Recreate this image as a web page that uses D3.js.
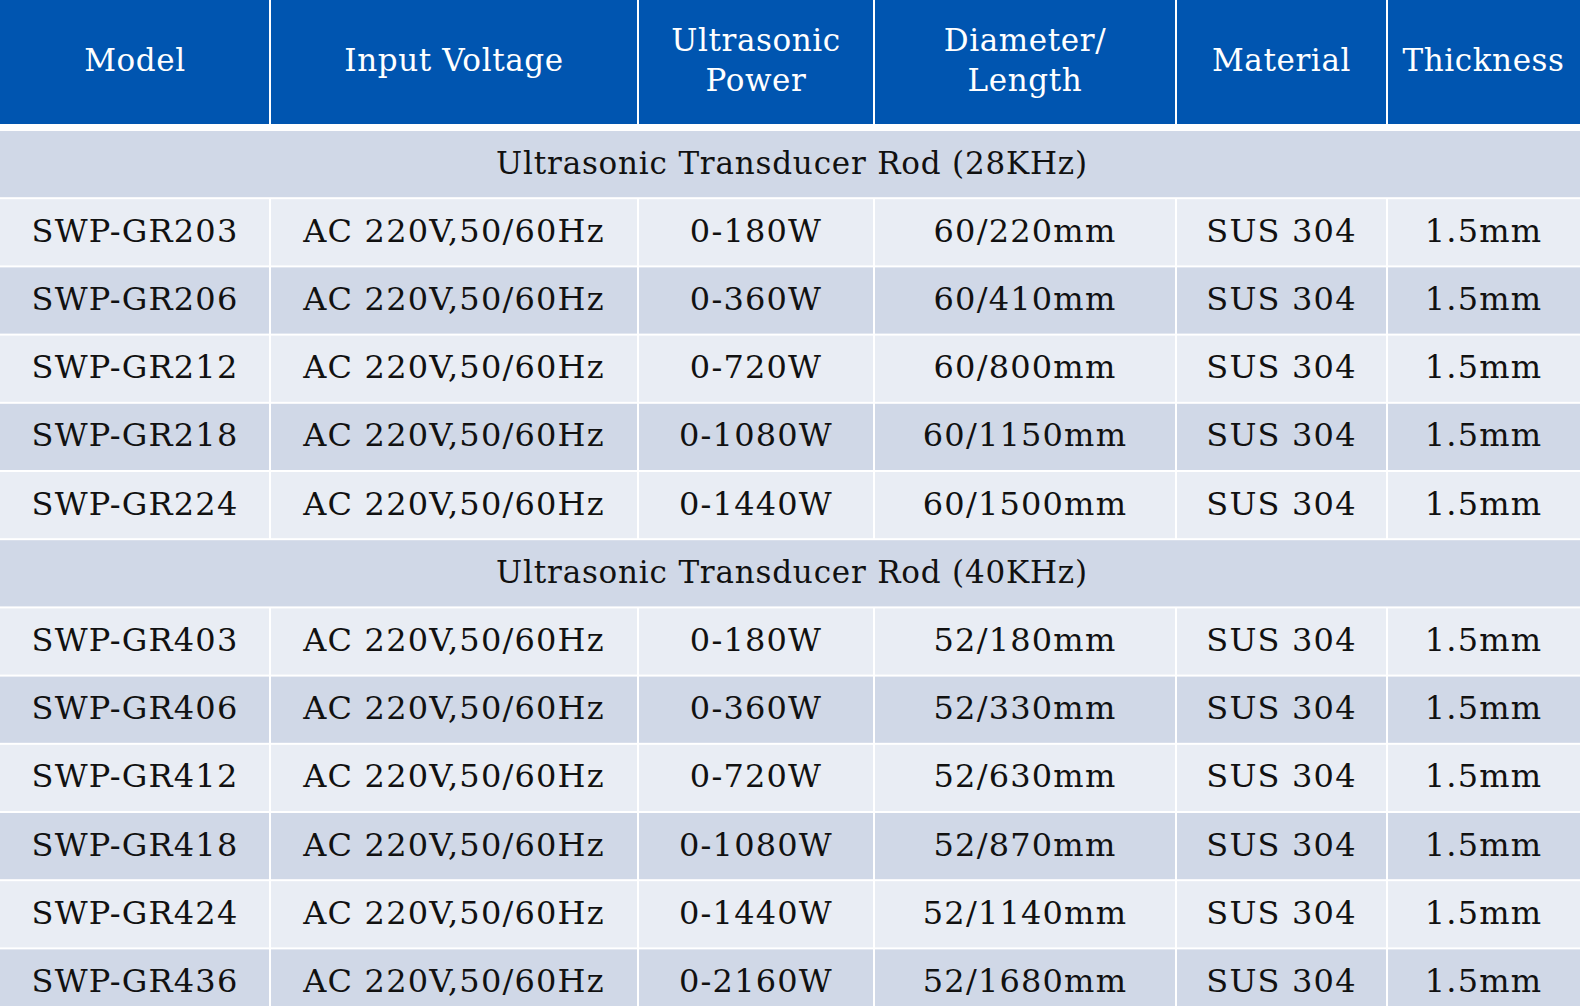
<!DOCTYPE html><html><head><meta charset="utf-8"><script src="https://cdn.jsdelivr.net/npm/d3@7"></script>
<style>body{margin:0;background:#fff}svg{display:block}</style></head><body><svg id="c" width="1580" height="1006"></svg><script>
const headers=[["Model"],["Input Voltage"],["Ultrasonic","Power"],["Diameter/","Length"],["Material"],["Thickness"]];
const colEdges=[0,270,638,874,1176,1387,1580];
const sections=["Ultrasonic Transducer Rod (28KHz)","Ultrasonic Transducer Rod (40KHz)"];
const models28=["SWP-GR203","SWP-GR206","SWP-GR212","SWP-GR218","SWP-GR224"];
const power28=["0-180W","0-360W","0-720W","0-1080W","0-1440W"];
const size28=["60/220mm","60/410mm","60/800mm","60/1150mm","60/1500mm"];
const models40=["SWP-GR403","SWP-GR406","SWP-GR412","SWP-GR418","SWP-GR424","SWP-GR436"];
const power40=["0-180W","0-360W","0-720W","0-1080W","0-1440W","0-2160W"];
const size40=["52/180mm","52/330mm","52/630mm","52/870mm","52/1140mm","52/1680mm"];
const voltage="AC 220V,50/60Hz", material="SUS 304", thickness="1.5mm";

const svg=d3.select("#c");
const font="'DejaVu Serif', serif";
const headH=125, gap=6, rowH=68.2;
for(let i=0;i<6;i++){
  const x0=colEdges[i],x1=colEdges[i+1];
  svg.append("rect").attr("x",x0+(i?1:0)).attr("y",0).attr("width",x1-x0-(i?1:0)-(i<5?1:0)).attr("height",headH-1).attr("fill","#0055b0");
  const lines=headers[i], cx=(x0+x1)/2;
  lines.forEach((l,j)=>{
    const y=lines.length==1?62:42+j*40;
    svg.append("text").attr("x",cx).attr("y",y).attr("text-anchor","middle").attr("dominant-baseline","middle")
      .attr("fill","#fff").attr("font-family",font).attr("font-size",31).attr("letter-spacing",0.6).text(l);
  });
}
const rows=[];
rows.push({sec:sections[0]});
models28.forEach((m,i)=>rows.push({cells:[m,voltage,power28[i],size28[i],material,thickness],alt:i%2}));
rows.push({sec:sections[1]});
models40.forEach((m,i)=>rows.push({cells:[m,voltage,power40[i],size40[i],material,thickness],alt:i%2}));
const y=d3.scaleBand().domain(d3.range(rows.length)).range([headH+gap,headH+gap+rowH*rows.length]);
rows.forEach((r,k)=>{
  const y0=y(k), h=y.bandwidth();
  if(r.sec){
    svg.append("rect").attr("x",0).attr("y",y0).attr("width",1580).attr("height",h-2).attr("fill","#d0d8e7");
    svg.append("text").attr("x",792).attr("y",y0+h/2).attr("text-anchor","middle").attr("dominant-baseline","middle")
      .attr("fill","#111").attr("font-family",font).attr("font-size",31).attr("letter-spacing",0.8).text(r.sec);
  } else {
    for(let i=0;i<6;i++){
      const x0=colEdges[i],x1=colEdges[i+1];
      svg.append("rect").attr("x",x0+(i?1:0)).attr("y",y0).attr("width",x1-x0-(i?1:0)-(i<5?1:0)).attr("height",h-2)
        .attr("fill",r.alt?"#d0d8e7":"#e9edf4");
      svg.append("text").attr("x",(x0+x1)/2).attr("y",y0+h/2).attr("text-anchor","middle").attr("dominant-baseline","middle")
        .attr("fill","#111").attr("font-family",font).attr("font-size",32).attr("letter-spacing",1.2).text(r.cells[i]);
    }
  }
});
</script></body></html>
